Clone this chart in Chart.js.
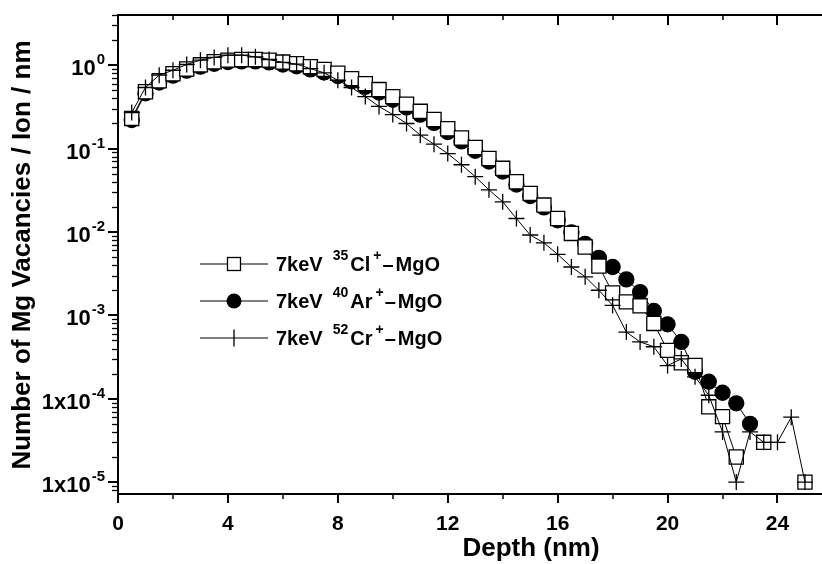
<!DOCTYPE html>
<html>
<head>
<meta charset="utf-8">
<script src="https://cdn.jsdelivr.net/npm/chart.js@4.4.0/dist/chart.umd.min.js"></script>
<style>
  html, body { margin: 0; padding: 0; background: #fff; overflow: hidden; }
  #wrap { position: relative; width: 822px; height: 564px; }
</style>
</head>
<body>
<div id="wrap"><canvas id="chart" width="822" height="564"></canvas></div>
<script>
// -----------------------
// Data
// -----------------------
const depth = [0.5, 1, 1.5, 2, 2.5, 3, 3.5, 4, 4.5, 5, 5.5, 6, 6.5, 7, 7.5, 8, 8.5, 9, 9.5, 10,
  10.5, 11, 11.5, 12, 12.5, 13, 13.5, 14, 14.5, 15, 15.5, 16, 16.5, 17, 17.5, 18, 18.5, 19, 19.5, 20,
  20.5, 21, 21.5, 22, 22.5, 23, 23.5, 24, 24.5, 25];

const clVac = [0.23, 0.48, 0.65, 0.79, 0.90, 1.01, 1.10, 1.15, 1.17, 1.17, 1.15, 1.09, 1.04, 0.96, 0.89, 0.80, 0.69, 0.60, 0.51, 0.42,
  0.34, 0.28, 0.223, 0.173, 0.134, 0.103, 0.076, 0.058, 0.040, 0.029, 0.021, 0.0145, 0.0096, 0.0066, 0.0039, 0.00186, 0.00145, 0.0013, 0.0008, 0.00038,
  0.00027, 0.00025, 8e-5, 6.1e-5, 2.0e-5, null, 3e-5, null, null, 1e-5];

const arVac = [0.22, 0.46, 0.62, 0.75, 0.86, 0.96, 1.04, 1.09, 1.11, 1.11, 1.08, 1.02, 0.97, 0.89, 0.82, 0.74, 0.64, 0.55, 0.47, 0.385,
  0.31, 0.255, 0.203, 0.158, 0.122, 0.094, 0.070, 0.053, 0.037, 0.027, 0.0197, 0.0138, 0.0099, 0.0072, 0.0049, 0.0038, 0.0027, 0.0019, 0.00113, 0.00078,
  0.00048, 0.00021, 0.00016, 0.000118, 8.8e-5, 5.0e-5, null, null, null, null];

const crVac = [0.27, 0.54, 0.76, 0.87, 1.02, 1.15, 1.24, 1.32, 1.32, 1.26, 1.17, 1.08, 1.03, 0.91, 0.81, 0.66, 0.54, 0.42, 0.32, 0.256,
  0.20, 0.145, 0.113, 0.087, 0.064, 0.046, 0.032, 0.023, 0.0145, 0.0092, 0.0074, 0.0054, 0.0038, 0.0029, 0.0020, 0.00132, 0.00063, 0.00048, 0.00042, 0.00025,
  0.00030, 0.000183, 0.00011, 4e-5, 1e-5, 4e-5, 3e-5, 3e-5, 6e-5, 1e-5];

const legendEnergy = '7keV';
const legendIsotopes = ['35', '40', '52'];
const legendElements = ['Cl', 'Ar', 'Cr'];
const legendDash = '\u2013';
const legendTarget = 'MgO';

const xMajorTicks = [0, 4, 8, 12, 16, 20, 24];
const xMinorTicks = [2, 6, 10, 14, 18, 22];
const yDecades = [1, 0.1, 0.01, 0.001, 1e-4, 1e-5];
const yTickBase = ['10', '10', '10', '10', '1x10', '1x10'];
const yTickExp = ['0', '-1', '-2', '-3', '-4', '-5'];
const yMinorMult = [2, 3, 4, 5, 6, 7, 8, 9];

const FONT = '"Liberation Sans", Arial, sans-serif';

// -----------------------
// Axis decorations + legend
// -----------------------
const decor = {
  id: 'decor',
  afterDraw(chart) {
    const ctx = chart.ctx;
    const { left, right, top, bottom } = chart.chartArea;
    const xs = chart.scales.x, ys = chart.scales.y;
    ctx.save();
    ctx.strokeStyle = '#000';
    ctx.fillStyle = '#000';

    // top frame line
    ctx.lineWidth = 2;
    ctx.beginPath(); ctx.moveTo(left - 1, top); ctx.lineTo(right, top); ctx.stroke();

    // x ticks (bottom outward, top inward)
    xMajorTicks.forEach(v => {
      const px = Math.round(xs.getPixelForValue(v));
      ctx.lineWidth = 2;
      ctx.beginPath();
      ctx.moveTo(px, bottom); ctx.lineTo(px, bottom + 9);
      ctx.moveTo(px, top); ctx.lineTo(px, top + 10);
      ctx.stroke();
    });
    xMinorTicks.forEach(v => {
      const px = Math.round(xs.getPixelForValue(v));
      ctx.lineWidth = 1.5;
      ctx.beginPath();
      ctx.moveTo(px, bottom); ctx.lineTo(px, bottom + 5);
      ctx.moveTo(px, top); ctx.lineTo(px, top + 5);
      ctx.stroke();
    });

    // y ticks (left outward)
    const yMin = ys.min, yMax = ys.max;
    yDecades.concat([1e-6]).forEach(d => {
      if (d >= yMin && d <= yMax) {
        const py = Math.round(ys.getPixelForValue(d));
        ctx.lineWidth = 2;
        ctx.beginPath(); ctx.moveTo(left - 10, py); ctx.lineTo(left, py); ctx.stroke();
      }
      yMinorMult.forEach(m => {
        const v = d * m;
        if (v < yMin || v > yMax) return;
        const py = Math.round(ys.getPixelForValue(v)) + 0.5;
        ctx.lineWidth = 1.3;
        ctx.beginPath(); ctx.moveTo(left - 6, py); ctx.lineTo(left, py); ctx.stroke();
      });
    });

    // y tick labels with superscripts
    const tickFont = 'bold 22px ' + FONT;
    const tickSup = 'bold 15px ' + FONT;
    ctx.textAlign = 'right';
    ctx.textBaseline = 'alphabetic';
    yDecades.forEach((d, i) => {
      const py = ys.getPixelForValue(d);
      const xr = 105;
      ctx.font = tickSup;
      const sw = ctx.measureText(yTickExp[i]).width;
      ctx.fillText(yTickExp[i], xr, py - 1);
      ctx.font = tickFont;
      ctx.fillText(yTickBase[i], xr - sw - 1, py + 10);
    });

    // axis titles
    ctx.font = 'bold 26px ' + FONT;
    ctx.textAlign = 'center';
    ctx.textBaseline = 'middle';
    ctx.fillText('Depth (nm)', 531, 549);
    ctx.save();
    ctx.translate(23, 255);
    ctx.rotate(-Math.PI / 2);
    ctx.fillText('Number of Mg Vacancies / Ion / nm', 0, 0);
    ctx.restore();

    // legend
    const legFont = 'bold 20px ' + FONT;
    const legSup = 'bold 14px ' + FONT;
    const rows = [264, 301, 338];
    const styles = ['rect', 'circle', 'cross'];
    rows.forEach((ry, i) => {
      ctx.lineWidth = 1;
      ctx.beginPath(); ctx.moveTo(200, ry); ctx.lineTo(268, ry); ctx.stroke();
      const mx = 234;
      ctx.lineWidth = 1.3;
      if (styles[i] === 'rect') {
        ctx.fillStyle = '#fff';
        ctx.fillRect(mx - 6.5, ry - 6.5, 13, 13);
        ctx.strokeRect(mx - 6.5, ry - 6.5, 13, 13);
        ctx.fillStyle = '#000';
      } else if (styles[i] === 'circle') {
        ctx.beginPath(); ctx.arc(mx, ry, 7.5, 0, Math.PI * 2); ctx.fill();
      } else {
        ctx.beginPath(); ctx.moveTo(mx, ry - 8.5); ctx.lineTo(mx, ry + 8.5); ctx.stroke();
      }
      ctx.textAlign = 'left';
      ctx.textBaseline = 'alphabetic';
      let tx = 276;
      const by = ry + 7;
      ctx.font = legFont;
      ctx.fillText(legendEnergy, tx, by);
      tx += ctx.measureText(legendEnergy).width + 10;
      ctx.font = legSup;
      ctx.fillText(legendIsotopes[i], tx, by - 11);
      tx += ctx.measureText(legendIsotopes[i]).width + 2;
      ctx.font = legFont;
      ctx.fillText(legendElements[i], tx, by);
      tx += ctx.measureText(legendElements[i]).width + 3;
      ctx.font = legSup;
      ctx.fillText('+', tx, by - 11);
      tx += ctx.measureText('+').width + 1;
      ctx.font = legFont;
      ctx.fillText(legendDash, tx, by);
      tx += ctx.measureText(legendDash).width + 2;
      ctx.fillText(legendTarget, tx, by);
    });
    ctx.restore();
  }
};

// -----------------------
// Chart
// -----------------------
function pts(vals) {
  return depth.map((x, i) => ({ x: x, y: vals[i] }));
}

const common = {
  borderColor: '#000',
  borderWidth: 1,
  pointBorderColor: '#000',
  pointBorderWidth: 1.3,
  spanGaps: false,
  showLine: true,
  pointHoverRadius: 0
};

new Chart(document.getElementById('chart').getContext('2d'), {
  type: 'line',
  data: {
    datasets: [
      Object.assign({ label: 'Cl', data: pts(clVac), pointStyle: 'rect', pointRadius: 10,
        pointBackgroundColor: '#fff', backgroundColor: '#fff', order: 1 }, common),
      Object.assign({ label: 'Ar', data: pts(arVac), pointStyle: 'circle', pointRadius: 7.5,
        pointBackgroundColor: '#000', backgroundColor: '#000', order: 2 }, common),
      Object.assign({ label: 'Cr', data: pts(crVac), pointStyle: 'cross', pointRadius: 8,
        pointBackgroundColor: '#000', backgroundColor: '#000', order: 0 }, common)
    ]
  },
  options: {
    responsive: false,
    animation: false,
    events: [],
    layout: { autoPadding: false, padding: { top: 15, left: 0, right: 0, bottom: 0 } },
    plugins: { legend: { display: false }, tooltip: { enabled: false } },
    scales: {
      x: {
        type: 'linear',
        min: 0,
        max: 25.62,
        afterFit(s) { s.height = 70; s.paddingLeft = 0; s.paddingRight = 0; },
        afterBuildTicks(s) { s.ticks = xMajorTicks.map(v => ({ value: v })); },
        grid: { display: false },
        border: { display: true, color: '#000', width: 2 },
        ticks: {
          color: '#000',
          padding: 10,
          maxRotation: 0,
          font: { family: FONT, size: 21, weight: 'bold' }
        }
      },
      y: {
        type: 'logarithmic',
        min: 7.2e-6,
        max: 4,
        afterFit(s) { s.width = 118; s.paddingTop = 0; s.paddingBottom = 0; },
        afterBuildTicks(s) { s.ticks = yDecades.map(v => ({ value: v })); },
        grid: { display: false },
        border: { display: true, color: '#000', width: 2 },
        ticks: { display: false }
      }
    }
  },
  plugins: [decor]
});
</script>
</body>
</html>
